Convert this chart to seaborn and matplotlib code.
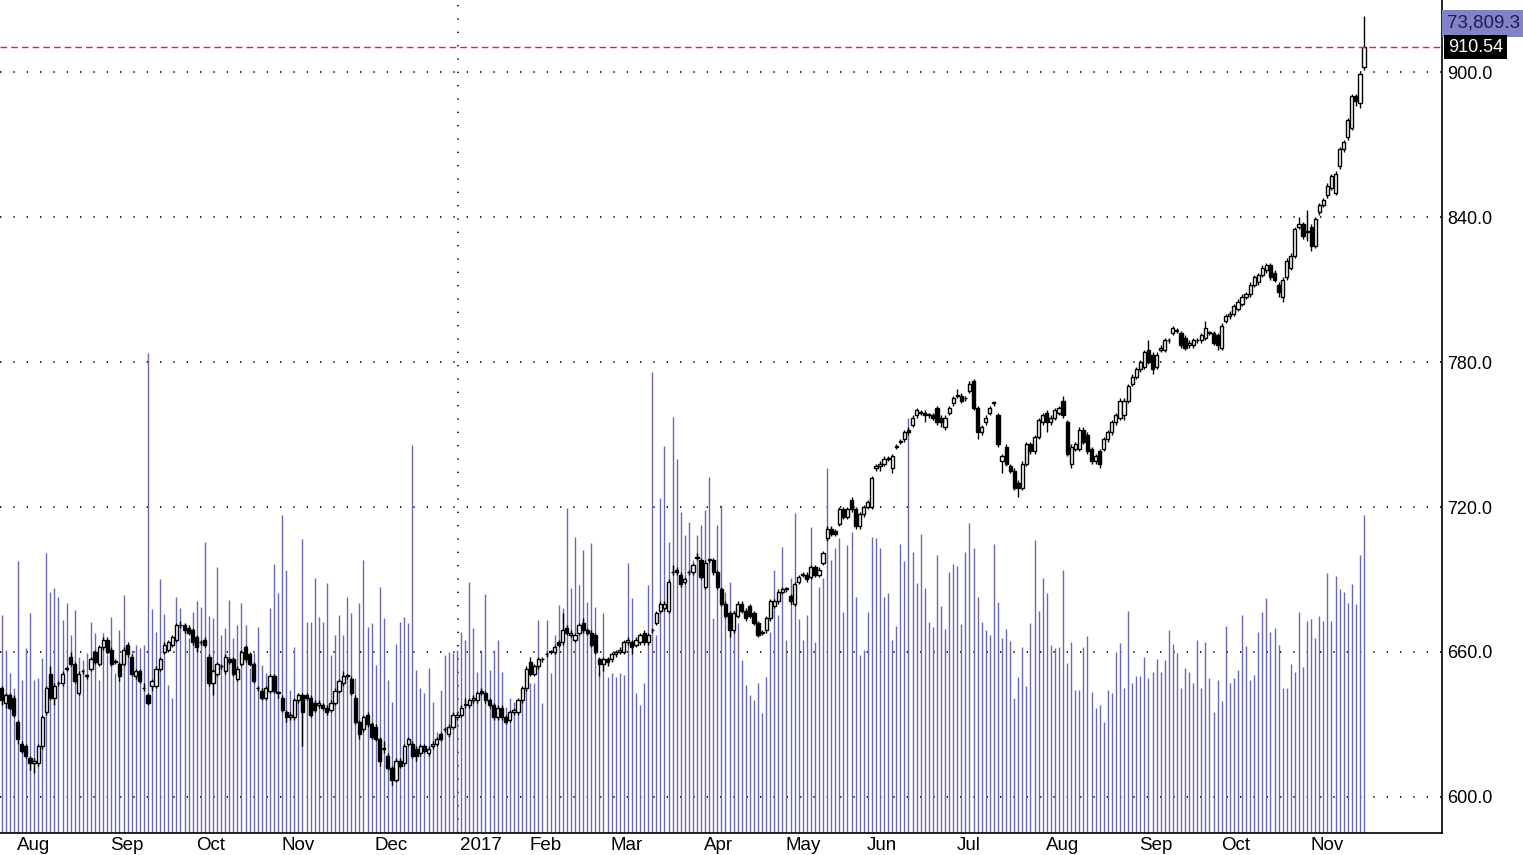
import numpy as np
import matplotlib
matplotlib.use("Agg")
import matplotlib.pyplot as plt
import matplotlib.transforms as mtransforms
import seaborn as sns

# ---------------- data (daily OHLC, Aug 2016 - Nov 2017) ----------------
opens = [
    645,639,642,641,631,622,621,616,614,614,621,635,651,641,647,647,653,658,655,643,652,650,653,660,655,662,665,661,656,655,655,
    663,658,650,652,645,642,646,646,653,660,661,663,665,671,671,670,669,666,664,665,658,647,651,654,652,657,657,649,655,662,659,
    655,645,644,641,644,650,643,641,635,633,633,640,642,642,641,639,638,638,637,636,639,644,647,650,649,641,631,628,634,630,
    629,624,620,617,612,607,615,614,622,622,620,618,621,618,621,622,626,628,626,629,633,634,638,638,640,640,644,643,640,638,633,
    637,633,632,635,635,640,645,656,651,654,657,659,660,660,664,664,670,667,665,668,672,669,668,667,657,655,657,657,659,660,
    660,664,664,663,664,668,664,669,672,677,678,677,693,694,692,689,693,693,699,698,687,698,698,693,686,680,676,669,675,680,677,
    679,676,672,668,669,674,679,681,685,686,683,680,689,692,692,691,695,692,697,707,711,710,713,719,716,723,719,712,717,720,720,
    736,737,738,740,736,745,747,748,752,754,758,759,759,758,758,761,757,753,759,763,766,766,765,768,772,761,751,755,759,763,758,
    739,745,737,735,730,728,738,746,743,749,755,759,755,757,759,764,755,738,744,744,752,750,744,739,743,744,748,751,755,757,
    758,764,771,774,777,778,785,783,778,785,785,789,792,793,792,790,787,787,789,789,790,792,792,791,786,797,799,800,802,804,807,
    808,812,813,816,818,820,817,812,807,815,819,824,836,837,834,836,828,842,845,849,852,850,861,868,873,877,890,887,902,
]
closes = [
    640,642,637,634,624,619,617,614,615,621,633,645,641,646,647,651,653,655,648,651,652,650,657,656,662,665,660,655,656,650,661,
    659,651,652,648,645,639,648,653,657,663,664,666,671,671,669,668,664,662,664,663,647,652,655,654,658,656,651,653,660,657,655,
    648,645,641,645,650,644,643,636,633,634,640,642,635,641,634,636,639,637,635,639,644,648,650,650,643,631,626,633,630,625,
    624,615,620,612,607,615,613,621,624,617,617,621,619,620,622,624,624,628,629,634,634,637,638,640,641,643,643,640,638,633,637,
    633,631,635,636,640,645,653,651,654,657,657,659,660,662,663,669,668,668,667,671,669,668,663,660,655,657,656,659,660,661,
    664,665,662,665,667,664,667,669,676,680,680,689,693,693,688,690,693,696,699,691,697,698,693,687,680,675,669,676,680,677,674,
    675,672,667,668,674,681,681,685,686,686,681,688,691,692,690,695,692,694,701,711,709,709,719,716,719,719,712,717,720,722,732,
    737,738,740,740,741,745,747,751,751,757,760,759,758,758,757,755,755,757,761,765,766,764,765,771,761,751,753,757,761,763,746,
    741,738,735,728,728,738,746,743,749,756,758,755,757,760,761,758,742,745,746,752,747,743,739,741,738,748,751,755,758,764,
    764,770,774,777,780,784,780,777,783,786,789,789,794,793,787,786,788,789,789,791,794,792,788,787,795,799,800,803,805,807,808,
    812,815,816,819,820,815,814,809,814,822,824,835,837,832,834,828,839,845,847,853,857,858,868,871,880,890,888,899,910.54,
]
highs = [
    646,643,643,642,632,623,622,617,616,622,634,646,654,647,648,652,654,660,656,652,653,651,658,661,663,666,666,662,657,656,662,
    664,659,653,653,647,643,649,654,658,664,665,667,672,673,672,671,670,667,665,666,659,653,656,655,659,658,658,654,661,663,660,
    656,646,645,646,651,651,644,642,636,635,641,643,643,643,642,640,640,639,638,640,645,649,652,651,650,642,632,634,635,631,
    630,625,623,618,613,616,616,622,625,623,621,622,622,621,623,625,627,629,630,635,635,638,641,641,642,644,645,644,641,639,638,
    638,634,636,637,641,646,654,658,655,658,658,660,661,663,665,676,671,669,668,672,674,670,669,668,658,658,658,660,661,662,
    665,666,665,666,668,669,668,670,677,681,681,690,696,695,693,691,694,697,701,699,698,699,699,694,687,681,677,677,681,681,678,
    680,677,673,669,675,682,682,686,687,687,684,689,692,693,693,696,696,695,702,712,712,711,720,720,720,724,720,718,721,723,733,
    738,739,741,741,742,746,748,752,753,758,761,760,760,759,759,762,758,758,762,766,769,767,766,772,773,762,754,758,762,764,759,
    742,746,738,736,731,739,747,747,750,757,759,760,758,761,762,766,756,746,747,753,753,751,745,742,744,749,752,756,759,765,
    765,771,775,778,781,785,789,784,784,787,790,790,795,794,793,791,789,790,790,792,797,793,793,792,796,800,801,804,806,808,809,
    813,816,817,820,821,821,818,813,815,823,825,836,840,838,843,837,840,846,848,854,858,859,869,872,881,891,891,900,923,
]
lows = [
    638,637,636,633,622,618,616,611,610,613,620,634,640,638,646,646,652,654,647,642,651,649,652,655,654,661,659,654,655,648,654,
    658,650,649,647,644,638,644,645,652,659,660,662,664,670,668,667,663,660,663,662,646,642,650,653,651,655,650,648,654,656,654,
    647,644,640,640,643,643,641,635,631,632,632,639,621,640,633,635,637,636,634,635,638,643,646,649,642,630,624,627,629,624,
    623,613,618,611,605,606,612,613,621,616,615,617,618,617,620,621,623,627,625,628,632,633,637,637,639,639,642,639,637,632,632,
    632,630,631,634,634,639,644,650,650,653,656,658,659,659,662,663,667,666,664,667,668,667,662,659,650,652,654,656,658,659,
    659,663,659,662,663,663,663,668,671,676,677,676,692,692,687,688,692,692,698,690,686,697,692,686,679,674,666,668,674,676,673,
    674,671,666,667,668,673,678,680,684,685,680,679,688,691,689,690,691,691,696,706,708,708,712,715,715,718,711,711,716,719,719,
    735,735,737,739,734,744,746,747,750,753,757,758,755,757,756,754,753,752,758,762,765,763,764,767,760,748,750,754,758,762,745,
    734,737,734,727,724,727,737,742,742,748,754,751,754,756,758,757,741,736,743,743,746,742,738,738,736,743,747,750,754,756,
    756,763,770,773,776,777,779,775,777,784,784,788,791,792,786,785,786,786,788,788,789,791,787,785,785,796,798,799,801,803,806,
    807,811,812,815,817,814,813,807,805,814,818,823,835,831,830,826,827,841,844,848,851,849,860,867,872,876,886,885,901,
]
volumes = [
    218,183,160,145,272,153,185,220,153,155,175,280,241,245,236,213,230,198,223,176,173,180,211,200,153,200,178,216,160,203,238,
    188,183,188,185,188,480,224,201,254,219,148,135,236,225,208,195,221,232,226,291,217,215,266,198,205,233,195,208,230,208,165,
    180,206,168,160,225,269,240,318,263,143,186,140,294,211,211,255,216,211,250,178,198,218,198,236,220,155,230,273,206,210,
    168,246,215,153,131,189,211,216,210,388,163,145,140,165,131,101,143,178,181,180,183,201,193,251,205,161,183,239,163,183,193,
    161,126,135,131,133,135,150,150,150,213,130,213,160,198,228,225,325,245,296,248,283,231,290,226,161,220,156,160,156,160,
    158,270,235,140,128,150,248,461,198,335,387,291,416,374,321,298,311,273,298,308,323,356,215,308,328,241,251,223,210,173,148,
    138,133,150,120,156,201,263,218,286,193,255,320,214,193,218,306,191,246,255,365,273,285,295,221,288,301,236,178,183,221,296,
    295,285,236,240,193,207,289,272,415,281,250,299,245,211,206,278,227,204,261,269,267,209,281,310,285,236,211,203,198,289,231,
    195,204,192,135,156,186,147,210,293,222,255,240,188,185,186,263,170,191,143,143,186,197,141,125,128,111,143,140,181,190,
    145,222,150,157,157,176,155,161,174,161,173,203,189,180,145,165,161,150,193,145,191,155,121,153,132,207,150,155,163,218,187,
    153,158,201,221,235,201,205,188,145,145,169,161,221,166,212,214,195,217,212,260,212,257,244,241,230,249,229,278,318,
]
month_labels = ["Aug", "Sep", "Oct", "Nov", "Dec", "2017", "Feb", "Mar", "Apr", "May",
                "Jun", "Jul", "Aug", "Sep", "Oct", "Nov"]
month_start_bar = [3, 26, 47, 68, 91, 112, 129, 149, 172, 192, 212, 234, 256, 279, 299, 321]
price_ticks = [600, 660, 720, 780, 840, 900]
last_price = 910.54
last_volume_label = "73,809.3"

# ---------------- styling ----------------
sns.set_theme(style="white")
plt.rcParams['font.family'] = ['Liberation Sans', 'DejaVu Sans']

o = np.array(opens, float); c = np.array(closes, float)
h = np.array(highs, float); l = np.array(lows, float)
v = np.array(volumes, float)
N = len(c)
x = np.arange(N)

W, H = 1523, 855
fig = plt.figure(figsize=(W / 100, H / 100), dpi=100)
fig.patch.set_facecolor("white")
rect = [0, 22 / H, 1442 / W, 833 / H]
ax_vol = fig.add_axes(rect)
ax = fig.add_axes(rect, sharex=ax_vol)
ax.patch.set_visible(False)

ppb = (1364 - 1.5) / (N - 1)
ax.set_xlim(-1.5 / ppb, (1442 - 1.5) / ppb)
ax.set_ylim(585.1, 929.8)
ax_vol.set_ylim(0, 833)

# grid (behind volume)
blend = mtransforms.blended_transform_factory(ax_vol.transAxes, ax.transData)
for p in price_ticks:
    ax_vol.plot([0, 1], [p, p], transform=blend, color="black", lw=1.2,
                ls=(0, (0.8, 7.2)), zorder=1)
x2017 = month_start_bar[5] + 0.2
ax_vol.axvline(x2017, color="black", lw=1.2, ls=(0, (0.8, 7.2)), zorder=1)

# volume
sns.despine(ax=ax_vol, left=True, bottom=True, right=True, top=True)
ax_vol.vlines(x, 0, v, color="#6a6ab0", lw=1.0, zorder=2)
ax_vol.set_xticks([]); ax_vol.set_yticks([])

# candles
up = c >= o
ax.vlines(x, l, h, color="black", lw=1.0, zorder=3)
body_bottom = np.minimum(o, c)
body_h = np.maximum(np.abs(c - o), 0.3)
ax.bar(x[up], body_h[up], bottom=body_bottom[up], width=0.78,
       facecolor="white", edgecolor="black", linewidth=1.0, zorder=4)
ax.bar(x[~up], body_h[~up], bottom=body_bottom[~up], width=0.78,
       facecolor="black", edgecolor="black", linewidth=1.0, zorder=4)

# last price line
ax.axhline(last_price, color="#ff1a1a", lw=1.0, ls=(0, (4.8, 2.9)), zorder=5)

# axes frame
for s in ["left", "top"]:
    ax.spines[s].set_visible(False)
for s in ["right", "bottom"]:
    ax.spines[s].set_visible(True)
    ax.spines[s].set_color("black")
    ax.spines[s].set_linewidth(1.2)

ax.yaxis.tick_right()
ax.set_yticks(price_ticks)
ax.set_yticklabels([f"{p:.1f}" for p in price_ticks])
ax.tick_params(axis="y", length=0, pad=4, labelsize=13, colors="black")

ticks = [m - 0.2 for m in month_start_bar]
ax.set_xticks(ticks)
ax.set_xticklabels([])
ax.tick_params(axis="x", direction="out", length=13, width=1.0, color="black")
lab_tr = mtransforms.offset_copy(ax.get_xaxis_transform(), fig=fig, x=4, y=0, units="dots")
for t, lab in zip(ticks, month_labels):
    ax.text(t, -12 / 833, lab, transform=lab_tr, ha="left", va="center",
            fontsize=13.5, color="black", clip_on=False)

# right-side value boxes
fig.text(1447 / W, 1 - 23.5 / H, last_volume_label, ha="left", va="center",
         fontsize=13.5, color="#1c1c50",
         bbox=dict(boxstyle="square,pad=0.25", fc="#8282c6", ec="none"))
fig.text(1448 / W, 1 - 47 / H, f"{last_price:.2f}", ha="left", va="center",
         fontsize=13, color="white",
         bbox=dict(boxstyle="square,pad=0.2", fc="black", ec="none"))

fig.savefig("out.png", dpi=100, facecolor="white")
